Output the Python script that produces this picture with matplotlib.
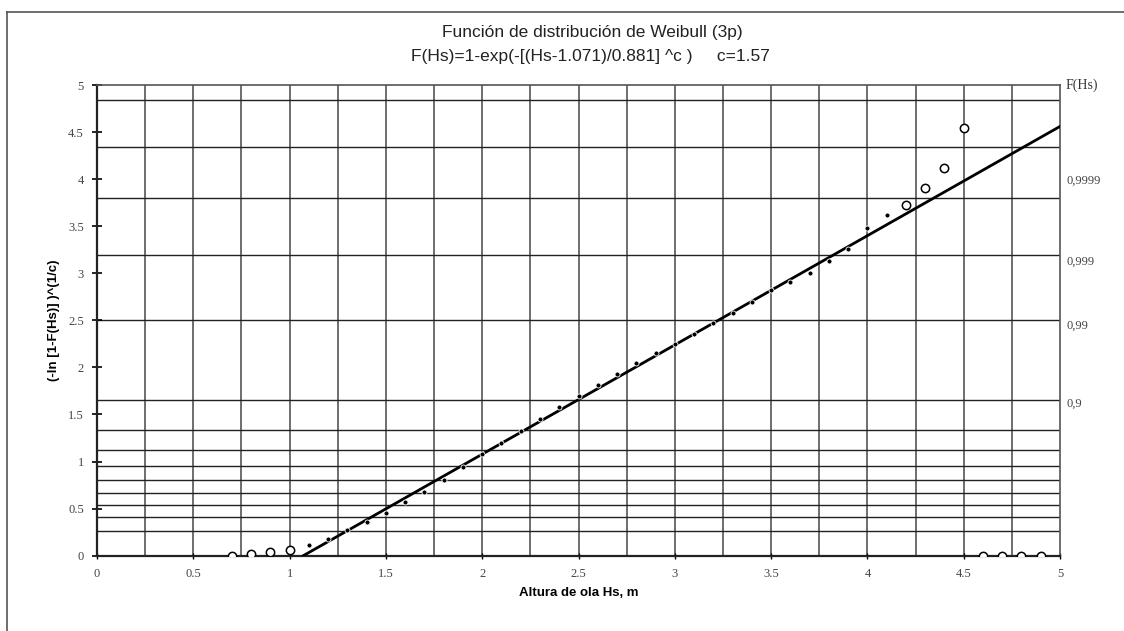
import numpy as np
import matplotlib
matplotlib.use("Agg")
import matplotlib.pyplot as plt
from matplotlib.lines import Line2D

# --- data ---
# points used in the fit (Hs, transformed probability)
hs_fit = [1.1, 1.2, 1.3, 1.4, 1.5, 1.6, 1.7, 1.8, 1.9, 2.0, 2.1, 2.2, 2.3, 2.4,
          2.5, 2.6, 2.7, 2.8, 2.9, 3.0, 3.1, 3.2, 3.3, 3.4, 3.5, 3.6, 3.7, 3.8,
          3.9, 4.0, 4.1]
y_fit = [0.117, 0.181, 0.27, 0.355, 0.457, 0.567, 0.68, 0.808, 0.946, 1.077,
         1.198, 1.322, 1.449, 1.577, 1.70, 1.817, 1.931, 2.045, 2.151, 2.25,
         2.356, 2.47, 2.582, 2.696, 2.824, 2.912, 3.0, 3.127, 3.262, 3.48, 3.619]

# points left out of the fit
hs_out = [0.7, 0.8, 0.9, 1.0, 4.2, 4.3, 4.4, 4.5, 4.6, 4.7, 4.8, 4.9]
y_out = [0.0, 0.02, 0.04, 0.065, 3.727, 3.907, 4.12, 4.548, 0.0, 0.0, 0.0, 0.0]

# fitted straight line
line_x = [1.071, 5.0]
line_y = [0.0, 4.56]

# probability grid (right axis)
c_grid = 1.665
f_grid = [0.1, 0.2, 0.3, 0.4, 0.5, 0.6, 0.7, 0.8, 0.9,
          0.99, 0.999, 0.9999, 0.99999, 0.999999]
right_labels = ["0,9", "0,99", "0,999", "0,9999"]
right_label_y = [1.63, 2.46, 3.14, 4.0]

x_ticks = np.arange(0, 5.01, 0.5)
y_ticks = np.arange(0, 5.01, 0.5)
x_grid = np.arange(0.25, 5.0, 0.25)

serif = "Liberation Serif"
sans = "Liberation Sans"

fig = plt.figure(figsize=(11.24, 6.31), dpi=100)
ax = fig.add_axes([97 / 1124, 1 - 555.7 / 631, (1060 - 97) / 1124, (555.7 - 85) / 631])

# page frame
fig.add_artist(Line2D([7 / 1124, 1.0], [1 - 12 / 631, 1 - 12 / 631], color="#555555", lw=1.2))
fig.add_artist(Line2D([7 / 1124, 7 / 1124], [1 - 12 / 631, 0.0], color="#555555", lw=1.2))

for xv in x_grid:
    ax.axvline(xv, color="#555555", lw=1.2, zorder=1)
for f in f_grid:
    yv = (-np.log(1 - f)) ** (1 / c_grid)
    ax.axhline(yv, color="#222222", lw=1.0, zorder=1)

ax.plot(line_x, line_y, color="black", lw=2.0, zorder=3)
ax.plot(hs_fit, y_fit, "o", ms=3.6, mfc="black", mec="white", mew=0.6, zorder=4)
ax.plot(hs_out, y_out, "o", ms=6, mfc="white", mec="black", mew=1.1, zorder=4)

ax.set_xlim(0, 5)
ax.set_ylim(0, 5)
ax.set_xticks(x_ticks)
ax.set_yticks(y_ticks)
ax.set_xticklabels([f"{v:g}" for v in x_ticks], fontfamily=serif, fontsize=9, color="#444444")
ax.set_yticklabels([f"{v:g}" for v in y_ticks], fontfamily=serif, fontsize=9, color="#444444")
ax.tick_params(axis="y", direction="inout", length=7, width=1.2, pad=6)
ax.tick_params(axis="x", direction="inout", length=4, width=1.0, pad=7)

for side in ["left", "bottom"]:
    ax.spines[side].set_linewidth(1.6)
    ax.spines[side].set_color("#222222")
for side in ["top", "right"]:
    ax.spines[side].set_linewidth(1.2)
    ax.spines[side].set_color("#555555")

ax.set_xlabel("Altura de ola Hs, m", fontfamily=sans, fontweight="bold", fontsize=9.5, labelpad=5)
ax.set_ylabel("(-ln [1-F(Hs)] )^(1/c)", fontfamily=sans, fontweight="bold", fontsize=9.5, labelpad=6)

# right axis labels
ax2 = ax.twinx()
ax2.set_ylim(0, 5)
ax2.set_yticks(right_label_y)
ax2.set_yticklabels(right_labels, fontfamily=serif, fontsize=9, color="#444444")
ax2.tick_params(axis="y", length=0, pad=5)
for s in ax2.spines.values():
    s.set_visible(False)
ax2.text(1.006, 1.0, "F(Hs)", transform=ax2.transAxes, fontfamily=serif, fontsize=10,
         color="#333333", ha="left", va="center")

fig.text(592 / 1124, 1 - 33 / 631, "Función de distribución de Weibull (3p)",
         fontfamily=sans, fontsize=12.5, color="#222222", ha="center", va="center")
fig.text(590 / 1124, 1 - 57 / 631, "F(Hs)=1-exp(-[(Hs-1.071)/0.881] ^c )     c=1.57",
         fontfamily=sans, fontsize=12.5, color="#222222", ha="center", va="center")

fig.savefig("out.png", dpi=100, facecolor="white")
